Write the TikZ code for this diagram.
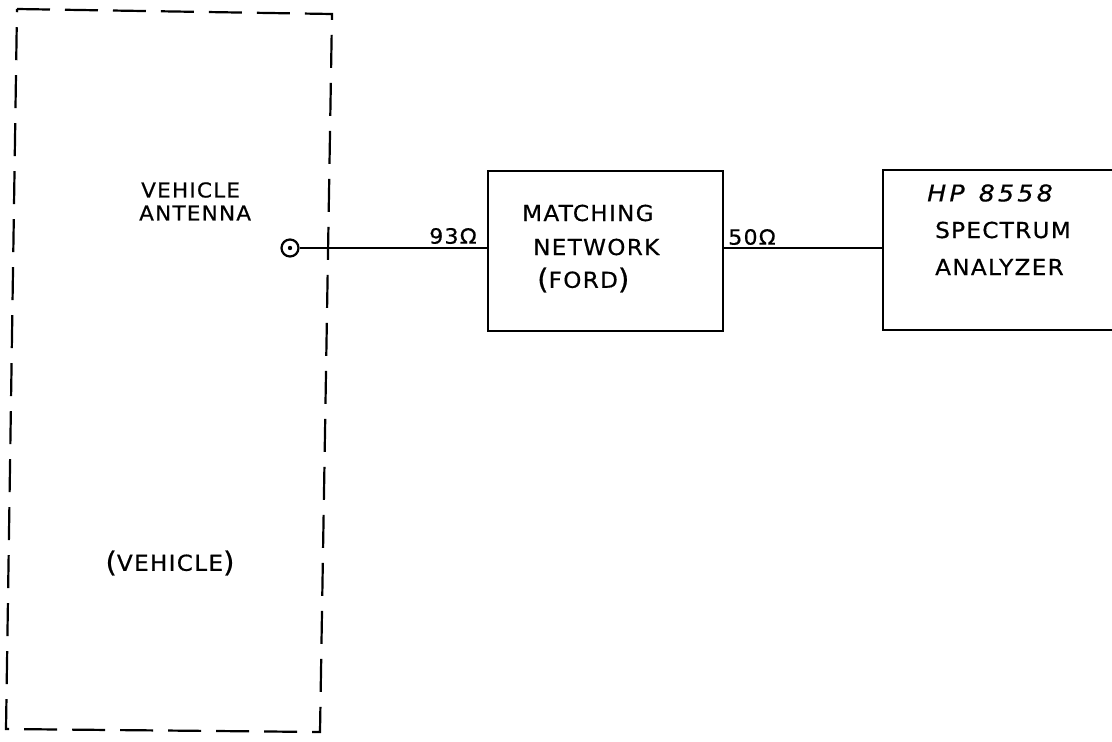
\documentclass[tikz,border=0pt]{standalone}
\usepackage{fontspec}
\setmainfont{DejaVu Sans}
\newfontfamily\hand[FakeStretch=1.05,LetterSpace=6,FakeBold=0.6]{DejaVu Sans}
\newfontfamily\handit[FakeStretch=1.1,LetterSpace=14,FakeBold=0.6]{DejaVu Sans Oblique}
\usetikzlibrary{calc}
\begin{document}
\begin{tikzpicture}[x=1pt,y=-1pt,
  ink/.style={line width=2.2pt,black},
  dashline/.style={ink,dash pattern=on 33pt off 15pt},
  lbl/.style={inner sep=0pt,font=\hand\fontsize{22}{24}\selectfont},
  lblv/.style={inner sep=0pt,font=\hand\fontsize{20.5}{23}\selectfont},
  sm/.style={inner sep=0pt,font=\hand\fontsize{21}{23}\selectfont},
  blk/.style={ink,draw,rectangle,inner sep=0pt}]
\useasboundingbox (0,0) rectangle (1112,742);
% vehicle dashed boundary
\coordinate (v1) at (17,9);
\coordinate (v2) at (332,14);
\coordinate (v3) at (320,732);
\coordinate (v4) at (6,729);
\draw[dashline] (v1) -- (v2) -- (v3) -- (v4) -- cycle;
% texts in vehicle
\node[lblv,anchor=west] (t1) at (141,190) {VEHICLE};
\node[lblv,anchor=west] (t2) at (139,213) {ANTENNA};
\node[lbl,anchor=center] (t3) at (170,563) {\raisebox{-1pt}{\fontsize{28}{30}\selectfont(}VEHICLE\raisebox{-1pt}{\fontsize{28}{30}\selectfont)}};
% antenna terminal
\node[ink,draw,circle,minimum size=17pt,inner sep=0pt] (ant) at (290,248) {};
\fill (ant.center) circle (2.2pt);
% matching network
\node[blk,minimum width=235pt,minimum height=160pt] (mn) at (605.5,251) {};
\node[lbl,anchor=west] (m1) at (522,213) {MATCHING};
\node[lbl,anchor=west] (m2) at (533,247) {NETWORK};
\node[lbl,anchor=west] (m3) at (537,280) {\raisebox{-1pt}{\fontsize{28}{30}\selectfont(}FORD\raisebox{-1pt}{\fontsize{28}{30}\selectfont)}};
% spectrum analyzer (open on the right)
\node[minimum width=229pt,minimum height=160pt,inner sep=0pt] (sa) at (997.5,250) {};
\draw[ink] (sa.north east) -- (sa.north west) -- (sa.south west) -- (sa.south east);
\node[lbl,anchor=west,font=\handit\fontsize{23}{25}\selectfont] (s1) at (927,193) {HP\hspace{14pt}8558};
\node[lbl,anchor=west] (s2) at (935,230) {SPECTRUM};
\node[lbl,anchor=west] (s3) at (935,267) {ANALYZER};
% connectors
\coordinate (j1) at (mn.west |- ant.east);
\draw[ink] (ant.east) -- (j1);
\coordinate (j2) at (mn.east |- 0,248);
\coordinate (j3) at (sa.west |- 0,248);
\draw[ink] (j2) -- (j3);
% impedance labels
\node[sm] (z1) at (453,236) {93Ω};
\node[sm] (z2) at (752,237) {50Ω};
\end{tikzpicture}
\end{document}
